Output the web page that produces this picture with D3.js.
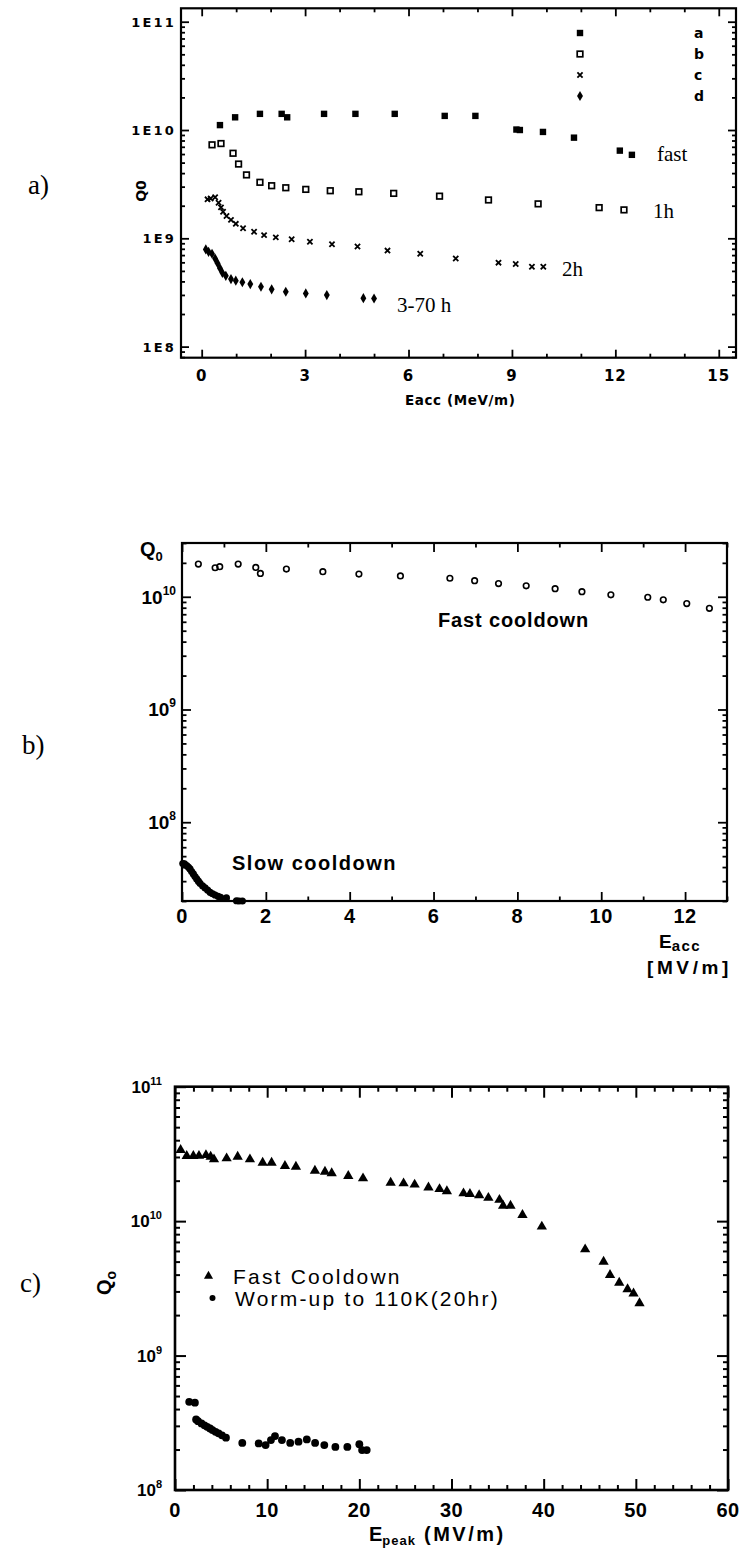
<!DOCTYPE html>
<html>
<head>
<meta charset="utf-8">
<script src="https://cdn.jsdelivr.net/npm/d3@7"></script>
<style>
  body { margin: 0; background: #fff; }
  svg { display: block; }
</style>
</head>
<body>
<svg id="fig" width="739" height="1554"></svg>
<script>
// ---------------- Panel a: Q0 vs Eacc after different hold times ----------------
const aSeriesA_E = [0.53, 0.97, 1.69, 2.32, 2.48, 3.55, 4.46, 5.6, 7.05, 7.94, 9.13, 9.23, 9.9, 10.8, 12.13, 12.48];
const aSeriesA_Q = [1.11e10, 1.31e10, 1.41e10, 1.41e10, 1.31e10, 1.41e10, 1.41e10, 1.41e10, 1.35e10, 1.35e10, 1.01e10, 1.0e10, 9.6e9, 8.5e9, 6.45e9, 5.9e9];

const aSeriesB_E = [0.30, 0.56, 0.91, 1.07, 1.30, 1.69, 2.03, 2.44, 3.02, 3.73, 4.56, 5.57, 6.9, 8.32, 9.76, 11.53, 12.25];
const aSeriesB_Q = [7.3e9, 7.5e9, 6.1e9, 4.85e9, 3.85e9, 3.29e9, 3.06e9, 2.93e9, 2.83e9, 2.75e9, 2.69e9, 2.6e9, 2.45e9, 2.26e9, 2.08e9, 1.92e9, 1.83e9];

const aSeriesC_E = [0.17, 0.26, 0.39, 0.49, 0.56, 0.62, 0.72, 0.85, 0.99, 1.20, 1.52, 1.81, 2.15, 2.61, 3.14, 3.78, 4.52, 5.39, 6.34, 7.37, 8.61, 9.11, 9.58, 9.91];
const aSeriesC_Q = [2.29e9, 2.33e9, 2.39e9, 2.13e9, 1.93e9, 1.76e9, 1.61e9, 1.48e9, 1.36e9, 1.24e9, 1.15e9, 1.07e9, 1.02e9, 9.8e8, 9.3e8, 8.8e8, 8.4e8, 7.7e8, 7.2e8, 6.5e8, 5.96e8, 5.8e8, 5.47e8, 5.47e8];

const aSeriesD_E = [0.12, 0.20, 0.30, 0.39, 0.46, 0.53, 0.60, 0.70, 0.85, 0.99, 1.18, 1.41, 1.72, 2.03, 2.44, 3.02, 3.63, 4.69, 5.0];
const aSeriesD_Q = [7.9e8, 7.5e8, 7.2e8, 6.5e8, 5.9e8, 5.3e8, 4.8e8, 4.5e8, 4.2e8, 4.06e8, 3.93e8, 3.78e8, 3.57e8, 3.38e8, 3.21e8, 3.1e8, 2.99e8, 2.8e8, 2.78e8];

const aLegendKeys = ["a", "b", "c", "d"];
const aCurveNotes = ["fast", "1h", "2h", "3-70 h"];
const aXTickVals = [0, 3, 6, 9, 12, 15];
const aYTickVals = [1e8, 1e9, 1e10, 1e11];
const aYTickText = ["1E8", "1E9", "1E10", "1E11"];

// ---------------- Panel b: fast vs slow cooldown ----------------
const bFastE = [0.39, 0.79, 0.90, 1.34, 1.76, 1.87, 2.49, 3.36, 4.22, 5.21, 6.39, 6.98, 7.55, 8.21, 8.9, 9.54, 10.23, 11.11, 11.48, 12.04, 12.58];
const bFastQ = [1.95e10, 1.81e10, 1.85e10, 1.95e10, 1.82e10, 1.61e10, 1.76e10, 1.67e10, 1.59e10, 1.53e10, 1.46e10, 1.39e10, 1.31e10, 1.25e10, 1.18e10, 1.11e10, 1.04e10, 9.9e9, 9.4e9, 8.7e9, 7.9e9];

const bSlowE = [0.02, 0.06, 0.11, 0.15, 0.19, 0.23, 0.27, 0.31, 0.35, 0.39, 0.43, 0.49, 0.55, 0.61, 0.67, 0.73, 0.79, 0.86, 0.92, 1.06, 1.30, 1.36, 1.44];
const bSlowQ = [4.3e7, 4.27e7, 4.12e7, 4.0e7, 3.85e7, 3.65e7, 3.48e7, 3.3e7, 3.14e7, 3.0e7, 2.87e7, 2.73e7, 2.61e7, 2.5e7, 2.39e7, 2.32e7, 2.26e7, 2.2e7, 2.15e7, 2.13e7, 2.01e7, 2.0e7, 2.0e7];

const bXTickVals = [0, 2, 4, 6, 8, 10, 12];
const bYTickVals = [1e8, 1e9, 1e10];
const bYTickExp = ["8", "9", "10"];

// ---------------- Panel c: Q0 vs Epeak ----------------
const cFastE = [0.61, 1.27, 1.99, 2.6, 3.36, 3.87, 4.23, 5.6, 6.8, 8.13, 9.51, 10.48, 11.93, 13.12, 15.18, 16.27, 17.0, 18.8, 20.4, 23.4, 24.8, 26.0, 27.5, 28.7, 29.5, 31.3, 32.0, 33.0, 34.0, 35.2, 35.6, 36.4, 37.7, 39.8, 44.5, 46.5, 47.2, 48.2, 49.1, 49.75, 50.4];
const cFastQ = [3.38e10, 3.05e10, 3.05e10, 3.06e10, 3.1e10, 3.01e10, 2.88e10, 2.93e10, 3.01e10, 2.88e10, 2.72e10, 2.72e10, 2.57e10, 2.54e10, 2.37e10, 2.33e10, 2.27e10, 2.17e10, 2.08e10, 1.93e10, 1.91e10, 1.87e10, 1.78e10, 1.73e10, 1.67e10, 1.61e10, 1.59e10, 1.56e10, 1.49e10, 1.44e10, 1.30e10, 1.30e10, 1.11e10, 9.1e9, 6.17e9, 4.99e9, 3.97e9, 3.48e9, 3.11e9, 2.9e9, 2.45e9];

const cWarmE = [1.54, 2.16, 2.29, 2.5, 2.87, 3.2, 3.49, 3.8, 4.07, 4.4, 4.73, 5.1, 5.53, 7.3, 9.08, 9.83, 10.41, 10.85, 11.6, 12.5, 13.4, 14.3, 15.2, 16.2, 17.4, 18.7, 20.0, 20.3, 20.8];
const cWarmQ = [4.53e8, 4.46e8, 3.35e8, 3.25e8, 3.13e8, 3.03e8, 2.95e8, 2.87e8, 2.79e8, 2.71e8, 2.64e8, 2.55e8, 2.45e8, 2.24e8, 2.22e8, 2.16e8, 2.35e8, 2.52e8, 2.35e8, 2.24e8, 2.29e8, 2.38e8, 2.24e8, 2.16e8, 2.09e8, 2.09e8, 2.19e8, 1.98e8, 1.98e8];

const cLegendText = ["Fast Cooldown", "Worm-up to 110K(20hr)"];
const cXTickVals = [0, 10, 20, 30, 40, 50, 60];
const cYTickVals = [1e8, 1e9, 1e10, 1e11];
const cYTickExp = ["8", "9", "10", "11"];

// ---------------- helpers ----------------
const svg = d3.select("#fig");
svg.append("rect").attr("width", 739).attr("height", 1554).attr("fill", "#fff");

const zip = (xs, ys) => xs.map((v, i) => [v, ys[i]]);

function logMinors(domain) {
  const out = [];
  const lo = Math.floor(Math.log10(domain[0])), hi = Math.ceil(Math.log10(domain[1]));
  for (let k = lo; k <= hi; k++) {
    for (let m = 2; m <= 9; m++) {
      const v = m * Math.pow(10, k);
      if (v >= domain[0] && v <= domain[1]) out.push(v);
    }
  }
  return out;
}

function drawFrame(x, y, sw) {
  const [l, r] = x.range(), [b, t] = y.range();
  svg.append("rect").attr("x", l).attr("y", t).attr("width", r - l).attr("height", b - t)
    .attr("fill", "none").attr("stroke", "#000").attr("stroke-width", sw);
}

// inward tick marks on all four sides, built with d3 axes
function drawTicks(x, y, xMaj, xMin, yMaj, yMin, lenMaj, lenMin, sw) {
  const [l, r] = x.range(), [b, t] = y.range();
  const put = (axis, tr) => svg.append("g").attr("transform", tr).call(axis)
    .call(g => g.select(".domain").remove())
    .call(g => g.selectAll("text").remove())
    .call(g => g.selectAll("line").attr("stroke", "#000").attr("stroke-width", sw));
  [[xMaj, lenMaj], [xMin, lenMin]].forEach(([v, len]) => {
    put(d3.axisBottom(x).tickValues(v).tickSize(-len), `translate(0,${b})`);
    put(d3.axisTop(x).tickValues(v).tickSize(-len), `translate(0,${t})`);
  });
  [[yMaj, lenMaj], [yMin, lenMin]].forEach(([v, len]) => {
    put(d3.axisLeft(y).tickValues(v).tickSize(-len), `translate(${l},0)`);
    put(d3.axisRight(y).tickValues(v).tickSize(-len), `translate(${r},0)`);
  });
}

function txt(x, y, s, opt) {
  const t = svg.append("text").attr("x", x).attr("y", y).text(s)
    .attr("font-family", opt.family || "Liberation Sans")
    .attr("font-size", opt.size || 16)
    .attr("font-weight", opt.weight || "normal")
    .attr("fill", "#000");
  if (opt.anchor) t.attr("text-anchor", opt.anchor);
  if (opt.spacing) t.attr("letter-spacing", opt.spacing);
  return t;
}

// panel tags
txt(28, 194, "a)", { family: "Liberation Serif", size: 27 });
txt(22, 754, "b)", { family: "Liberation Serif", size: 27 });
txt(20, 1292, "c)", { family: "Liberation Serif", size: 27 });

// =============== Panel a ===============
{
  const x = d3.scaleLinear().domain([-0.6, 15.5]).range([181, 736]);
  const y = d3.scaleLog().domain([7.9e7, 1.33e11]).range([357.7, 8.3]);
  const xMinor = d3.range(0, 16).filter(v => v % 3 !== 0);
  drawTicks(x, y, aXTickVals, xMinor, aYTickVals, logMinors(y.domain()), 8, 4, 1.8);
  drawFrame(x, y, 2.2);

  const f = { family: "DejaVu Sans", weight: "bold" };
  aYTickVals.forEach((v, i) => txt(176, y(v) + 5, aYTickText[i], { ...f, size: 13, anchor: "end", spacing: 2.2 }));
  aXTickVals.forEach(v => txt(x(v), 381, String(v), { ...f, size: 15, anchor: "middle", spacing: 1 }));
  txt(x(7.5), 405, "Eacc (MeV/m)", { ...f, size: 13.5, anchor: "middle", spacing: 0.6 });
  txt(0, 0, "Q0", { ...f, size: 14 }).attr("text-anchor", "middle")
    .attr("transform", "translate(146,191) rotate(-90)");

  const g = svg.append("g");
  // a: filled squares
  g.selectAll(".sa").data(zip(aSeriesA_E, aSeriesA_Q)).join("rect")
    .attr("x", d => x(d[0]) - 3.2).attr("y", d => y(d[1]) - 3.2)
    .attr("width", 6.4).attr("height", 6.4).attr("fill", "#000");
  // b: open squares
  g.selectAll(".sb").data(zip(aSeriesB_E, aSeriesB_Q)).join("rect")
    .attr("x", d => x(d[0]) - 2.8).attr("y", d => y(d[1]) - 2.8)
    .attr("width", 5.6).attr("height", 5.6).attr("fill", "none")
    .attr("stroke", "#000").attr("stroke-width", 1.7);
  // c: crosses
  const cross = r => `M${-r},${-r}L${r},${r}M${-r},${r}L${r},${-r}`;
  g.selectAll(".sc").data(zip(aSeriesC_E, aSeriesC_Q)).join("path")
    .attr("transform", d => `translate(${x(d[0])},${y(d[1])})`)
    .attr("d", cross(2.6)).attr("stroke", "#000").attr("stroke-width", 1.8).attr("fill", "none");
  // d: diamonds
  g.selectAll(".sd").data(zip(aSeriesD_E, aSeriesD_Q)).join("path")
    .attr("transform", d => `translate(${x(d[0])},${y(d[1])})`)
    .attr("d", d3.symbol(d3.symbolDiamond, 30)()).attr("fill", "#000");

  // legend, upper right
  const ly = [33, 54, 75, 96];
  const lx = 580;
  g.append("rect").attr("x", lx - 3.2).attr("y", ly[0] - 3.2).attr("width", 6.4).attr("height", 6.4).attr("fill", "#000");
  g.append("rect").attr("x", lx - 2.8).attr("y", ly[1] - 2.8).attr("width", 5.6).attr("height", 5.6)
    .attr("fill", "none").attr("stroke", "#000").attr("stroke-width", 1.7);
  g.append("path").attr("transform", `translate(${lx},${ly[2]})`).attr("d", cross(2.6))
    .attr("stroke", "#000").attr("stroke-width", 1.8);
  g.append("path").attr("transform", `translate(${lx},${ly[3]})`).attr("d", d3.symbol(d3.symbolDiamond, 30)()).attr("fill", "#000");
  aLegendKeys.forEach((k, i) => txt(694, ly[i] + 5, k, { ...f, size: 14 }));

  // curve notes
  const serif = { family: "Liberation Serif", size: 21 };
  txt(657, 161, aCurveNotes[0], serif);
  txt(653, 218, aCurveNotes[1], serif);
  txt(562, 276, aCurveNotes[2], serif);
  txt(397, 312, aCurveNotes[3], serif);
}

// =============== Panel b ===============
{
  const x = d3.scaleLinear().domain([0, 13]).range([182, 727]);
  const y = d3.scaleLog().domain([2e7, 3e10]).range([901, 543]);
  drawTicks(x, y, bXTickVals, [1, 3, 5, 7, 9, 11, 13], bYTickVals, logMinors(y.domain()), 9, 4.5, 1.8);
  drawFrame(x, y, 2.2);

  const f = { family: "Liberation Sans", weight: "bold" };
  bXTickVals.forEach(v => txt(x(v), 923, String(v), { ...f, size: 20, anchor: "middle", spacing: 0.5 }));
  bYTickVals.forEach((v, i) => {
    const t = txt(176, y(v) + 7, "", { ...f, size: 19, anchor: "end" });
    t.append("tspan").text("10");
    t.append("tspan").attr("dy", -9).attr("font-size", 12).text(bYTickExp[i]);
  });
  const q = txt(140, 556, "", { ...f, size: 20 });
  q.append("tspan").text("Q");
  q.append("tspan").attr("dy", 5).attr("font-size", 13).text("0");

  // axis title at the lower right corner
  const e = txt(659, 948, "", { ...f, size: 19 });
  e.append("tspan").text("E");
  e.append("tspan").attr("dy", 3).attr("font-size", 15).attr("letter-spacing", 1.5).text("acc");
  txt(647, 974, "[MV/m]", { ...f, size: 19, spacing: 3.6 });

  svg.append("g").selectAll("circle").data(zip(bFastE, bFastQ)).join("circle")
    .attr("cx", d => x(d[0])).attr("cy", d => y(d[1])).attr("r", 2.8)
    .attr("fill", "none").attr("stroke", "#000").attr("stroke-width", 1.6);
  svg.append("g").selectAll("circle").data(zip(bSlowE, bSlowQ)).join("circle")
    .attr("cx", d => x(d[0])).attr("cy", d => y(d[1])).attr("r", 3.6).attr("fill", "#000");

  txt(438, 627, "Fast cooldown", { ...f, size: 20, spacing: 0.85 });
  txt(232, 870, "Slow cooldown", { ...f, size: 20, spacing: 1.5 });
}

// =============== Panel c ===============
{
  const x = d3.scaleLinear().domain([0, 60]).range([175, 728]);
  const y = d3.scaleLog().domain([1e8, 1e11]).range([1490, 1086.7]);
  const xMinor = d3.range(2, 60, 2).filter(v => v % 10 !== 0);
  drawTicks(x, y, cXTickVals, xMinor, cYTickVals, logMinors(y.domain()), 11, 5, 2);
  drawFrame(x, y, 2.6);

  const f = { family: "Liberation Sans", weight: "bold" };
  cXTickVals.forEach(v => txt(x(v), 1517, String(v), { ...f, size: 20, anchor: "middle", spacing: 0.5 }));
  cYTickVals.forEach((v, i) => {
    const t = txt(162, y(v) + 6, "", { ...f, size: 17, anchor: "end" });
    t.append("tspan").text("10");
    t.append("tspan").attr("dy", -8).attr("font-size", 11).text(cYTickExp[i]);
  });
  const ep = txt(369, 1541, "", { ...f, size: 20 });
  ep.append("tspan").text("E");
  ep.append("tspan").attr("dy", 4).attr("font-size", 13).attr("letter-spacing", 1).text("peak");
  ep.append("tspan").attr("dy", -4).attr("letter-spacing", 2.5).text(" (MV/m)");
  const qo = txt(0, 0, "", { ...f, size: 20 }).attr("text-anchor", "middle")
    .attr("transform", "translate(111,1283) rotate(-90)");
  qo.append("tspan").text("Q");
  qo.append("tspan").attr("dy", 5).attr("font-size", 14).text("o");

  const tri = d3.symbol(d3.symbolTriangle, 46)();
  svg.append("g").selectAll("path").data(zip(cFastE, cFastQ)).join("path")
    .attr("transform", d => `translate(${x(d[0])},${y(d[1])})`).attr("d", tri).attr("fill", "#000");
  svg.append("g").selectAll("circle").data(zip(cWarmE, cWarmQ)).join("circle")
    .attr("cx", d => x(d[0])).attr("cy", d => y(d[1])).attr("r", 3.9).attr("fill", "#000");

  // legend
  svg.append("path").attr("transform", "translate(208.5,1276)").attr("d", d3.symbol(d3.symbolTriangle, 36)()).attr("fill", "#000");
  svg.append("circle").attr("cx", 212.5).attr("cy", 1298).attr("r", 3).attr("fill", "#000");
  const lf = { family: "Liberation Sans", size: 21, spacing: 2.2 };
  txt(233, 1283.5, cLegendText[0], lf);
  txt(235, 1306, cLegendText[1], lf);
}
</script>
</body>
</html>
